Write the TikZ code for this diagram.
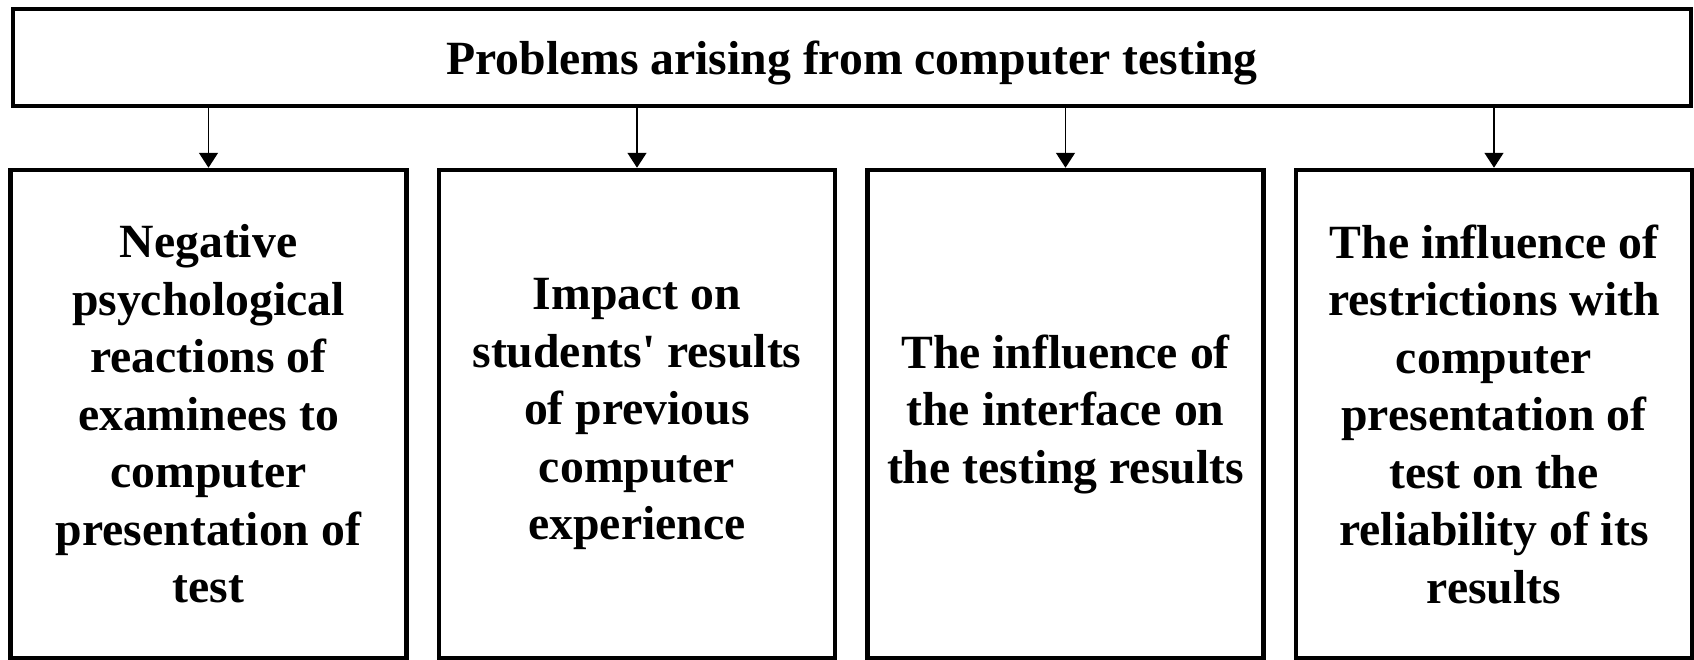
\documentclass[tikz,border=0pt]{standalone}
\usepackage{fontspec}
\setmainfont{Liberation Serif}[Ligatures=TeXOff]
\usetikzlibrary{arrows.meta}

\begin{document}
\begin{tikzpicture}[x=1pt,y=1pt,
  frame/.style={draw=black, line width=4.5pt, inner sep=0pt, fill=white},
  headbox/.style={frame, minimum width=1678pt, minimum height=97pt, text depth=0pt,
    font=\fontsize{47.7}{57.5}\selectfont\bfseries},
  itembox/.style={frame, minimum width=396pt, minimum height=488pt, align=center,
    font=\fontsize{47.7}{57.5}\selectfont\bfseries},
  conn/.style={draw=black, line width=1.6pt, -{Triangle[width=19pt,length=15pt]}}
]
% canvas
\fill[white] (0,0) rectangle (1694,-659);
\useasboundingbox (0,0) rectangle (1694,-659);

% heading
\node[headbox] (top) at (852,-57.5) {Problems arising from computer testing};

% four problem boxes
\node[itembox] (b1) at (208.5,-414) {Negative\\psychological\\reactions of\\examinees to\\computer\\presentation of\\test};
\node[itembox] (b2) at (637,-414) {Impact on\\students' results\\of previous\\computer\\experience};
\node[itembox] (b3) at (1065.5,-414) {The influence of\\the interface on\\the testing results};
\node[itembox] (b4) at (1494,-414) {The influence of\\restrictions with\\computer\\presentation of\\test on the\\reliability of its\\results};

% connectors
\foreach \b in {b1,b2,b3,b4}
  \draw[conn] (top.south -| \b.north) -- (\b.north);
\end{tikzpicture}
\end{document}
